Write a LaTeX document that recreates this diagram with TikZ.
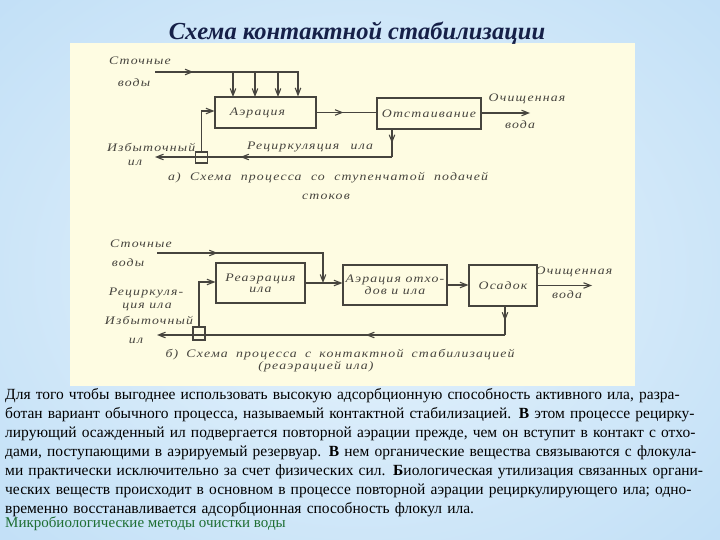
\documentclass[tikz,border=0pt]{standalone}
\usepackage{fontspec}
\setmainfont{Liberation Serif}
\newfontfamily\df[FakeStretch=1.2,LetterSpace=10]{Liberation Serif}
\usetikzlibrary{arrows.meta,decorations.markings}
\definecolor{ink}{RGB}{70,68,62}
\definecolor{paper}{RGB}{254,252,226}
\definecolor{bgout}{RGB}{150,200,240}
\definecolor{bgin}{RGB}{230,243,252}
\definecolor{titlec}{RGB}{22,32,72}
\definecolor{footc}{RGB}{30,110,50}
\pgfdeclareradialshading{bgshade}{\pgfpoint{0bp}{0bp}}{color(0bp)=(bgin); color(30bp)=(bgin!55!bgout); color(50bp)=(bgout)}
\tikzset{
 lbl/.style={font=\df\itshape\fontsize{11.5}{12}\selectfont, text=ink, inner sep=0pt},
 box/.style={draw=ink, line width=1.1pt, inner sep=0pt, font=\df\itshape\fontsize{11.5}{12}\selectfont, text=ink, align=center},
 flow/.style={draw=ink, line width=1.1pt},
 tip/.style={-{Straight Barb[length=7pt,width=5.5pt]}},
 midarr/.style={postaction=decorate, decoration={markings, mark=at position #1 with {\arrow{Straight Barb[length=7pt,width=5.5pt]}}}},
}
\newcommand{\fl}[1]{\makebox[708pt][s]{#1}}
\begin{document}
\begin{tikzpicture}[x=1pt,y=-1pt]
\useasboundingbox (0,0) rectangle (720,540);
\shade[shading=bgshade] (-60,-60) rectangle (780,600);
\fill[paper] (70,43) rectangle (635,386);
\node[font=\bfseries\itshape\fontsize{24.5}{26}\selectfont, text=titlec] (title) at (357,33) {Схема контактной стабилизации};

% ---------- top scheme ----------
\node[box, minimum width=101pt, minimum height=31pt] (aer) at (265.5,112.5) {\hspace*{-16pt}Аэрация};
\node[box, minimum width=104pt, minimum height=31pt] (ots) at (429,113.5) {Отстаивание};
\coordinate (ina) at (155,72);
\coordinate (ca) at (298,72);
\coordinate (outa) at (530,113);
\coordinate (ra) at (392,157);
\coordinate (exa) at (155,157);
\coordinate (ua) at (201.5,111);
\draw[flow, midarr=0.23, tip] (ina) -- (ca) -- (ca |- aer.north);
\foreach \x in {233,255,278} \draw[flow, tip] (\x,72) -- (\x,97);
\draw[flow, midarr=0.45] (aer.east) -- (aer.east -| ots.west);
\draw[flow, tip] (ots.east |- outa) -- (outa);
\draw[flow, midarr=0.5] (ra |- ots.south) -- (ra);
\draw[flow, midarr=0.64, tip] (ra) -- (exa);
\node[box, minimum width=12pt, minimum height=11pt] (sqa) at (201.5,157.5) {};
\draw[flow, tip] (sqa.north) -- (ua) -- (ua -| aer.west);

\node[lbl] (a1) at (140,61) {Сточные};
\node[lbl] (a2) at (134,83) {воды};
\node[lbl] (a3) at (527,99) {Очищенная};
\node[lbl] (a4) at (520,125) {вода};
\node[lbl] (a5) at (310,147) {\makebox[126pt][s]{Рециркуляция ила}};
\node[lbl] (a6) at (148,147) {\makebox[82pt][s]{Избыточный}};
\node[lbl] (a7) at (135,163) {ил};
\node[lbl] (a8) at (328,178) {\makebox[320pt][s]{а) Схема процесса со ступенчатой подачей}};
\node[lbl] (a9) at (326,197) {стоков};

% ---------- bottom scheme ----------
\node[box, minimum width=89pt, minimum height=40pt] (rea) at (260.5,283) {Реаэрация\\[-1pt]ила};
\node[box, minimum width=104pt, minimum height=40pt] (aerb) at (395,285) {Аэрация отхо-\\дов и ила};
\node[box, minimum width=68pt, minimum height=41pt] (osad) at (503,285.5) {Осадок};
\coordinate (inb) at (157,253);
\coordinate (cb) at (323,253);
\coordinate (outb) at (592,285.5);
\coordinate (rb) at (505,335);
\coordinate (exb) at (157,335);
\coordinate (ub) at (199,282);
\draw[flow, midarr=0.31, tip] (inb) -- (cb) -- (cb |- rea.east);
\draw[flow, tip] (rea.east) -- (rea.east -| aerb.west);
\draw[flow, tip] (aerb.east) -- (aerb.east -| osad.west);
\draw[flow, tip] (osad.east) -- (outb);
\draw[flow, midarr=0.5] (rb |- osad.south) -- (rb);
\draw[flow, midarr=0.4, tip] (rb) -- (exb);
\node[box, minimum width=12pt, minimum height=13pt] (sqb) at (199,333.5) {};
\draw[flow, tip] (sqb.north) -- (ub) -- (ub -| rea.west);

\node[lbl] (b1) at (141,244) {Сточные};
\node[lbl] (b2) at (128,263) {воды};
\node[lbl] (b3) at (574,272) {Очищенная};
\node[lbl] (b4) at (567,295) {вода};
\node[lbl] (b5) at (146,293) {Рециркуля-};
\node[lbl] (b6) at (147,307) {ция ила};
\node[lbl] (b7) at (149,320) {Избыточный};
\node[lbl] (b8) at (136,341) {ил};
\node[lbl] (b9) at (340,355) {\makebox[349pt][s]{б) Схема процесса с контактной стабилизацией}};
\node[lbl] (b10) at (316,367) {(реаэрацией ила)};

% ---------- text ----------
\node[anchor=north west, inner sep=0pt, text width=708pt, align=left, font=\fontsize{15.5}{19}\selectfont] (body) at (5,388) {%
\fl{Для того чтобы выгоднее использовать высокую адсорбционную способность активного ила, разра-}\\
\fl{ботан вариант обычного процесса, называемый контактной стабилизацией. \textbf{В} этом процессе рецирку-}\\
\fl{лирующий осажденный ил подвергается повторной аэрации прежде, чем он вступит в контакт с отхо-}\\
\fl{дами, поступающими в аэрируемый резервуар. \textbf{В} нем органические вещества связываются с флокула-}\\
\fl{ми практически исключительно за счет физических сил. \textbf{Б}иологическая утилизация связанных органи-}\\
\fl{ческих веществ происходит в основном в процессе повторной аэрации рециркулирующего ила; одно-}\\
временно восстанавливается адсорбционная способность флокул ила.};
\node[anchor=base west, inner sep=0pt, font=\fontsize{15}{16}\selectfont, text=footc] (foot) at (5,527) {Микробиологические методы очистки воды};
\end{tikzpicture}
\end{document}
